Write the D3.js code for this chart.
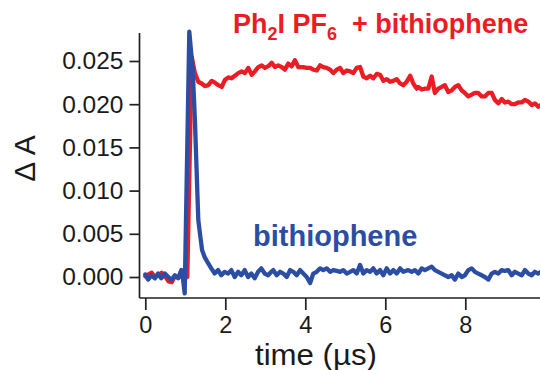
<!DOCTYPE html>
<html>
<head>
<meta charset="utf-8">
<script src="https://cdn.jsdelivr.net/npm/d3@7"></script>
<style>
  html, body { margin: 0; padding: 0; background: #ffffff; }
  svg { display: block; }
</style>
</head>
<body>
<svg id="chart" width="540" height="370"></svg>
<script>
// ---------- data ----------
const xTicks = [0, 2, 4, 6, 8];
const yTicks = [0.000, 0.005, 0.010, 0.015, 0.020, 0.025];
const yTickLabels = ["0.000", "0.005", "0.010", "0.015", "0.020", "0.025"];

const seriesNames = ["Ph\u2082I PF\u2086 + bithiophene", "bithiophene"];

const redTime = [0.00,0.08,0.16,0.24,0.33,0.41,0.49,0.58,0.66,0.74,0.83,0.91,0.99,1.05,1.16,
  1.24,1.325,1.41,1.49,1.575,1.66,1.74,1.825,1.91,1.99,2.075,2.16,2.24,2.325,2.41,2.49,2.575,2.66,2.74,2.825,2.91,2.99,
  3.075,3.16,3.24,3.325,3.41,3.49,3.575,3.66,3.74,3.825,3.87,3.95,4.035,4.12,4.20,4.285,4.37,4.45,4.535,4.62,4.70,4.785,
  4.87,4.95,5.035,5.12,5.20,5.285,5.37,5.45,5.535,5.62,5.70,5.785,5.87,5.95,6.035,6.12,6.20,6.285,6.37,6.45,6.535,6.62,
  6.70,6.785,6.825,6.91,6.99,7.075,7.16,7.24,7.325,7.41,7.49,7.575,7.66,7.74,7.825,7.91,7.99,8.075,8.16,8.24,8.325,8.41,
  8.49,8.575,8.66,8.74,8.825,8.91,8.99,9.075,9.16,9.24,9.325,9.41,9.49,9.575,9.66,9.74,9.825,9.89];
const redDA = [0.0001,0.0003,0.0005,0.0000,0.0002,0.0005,0.0001,-0.0005,-0.0006,0.0001,-0.0001,0.0003,-0.0001,0.0000,0.0255,
  0.0236,0.0226,0.0224,0.0221,0.0222,0.0227,0.0225,0.0222,0.0220,0.0228,0.0231,0.0230,0.0233,0.0236,0.0238,0.0236,0.0242,0.0234,0.0238,0.0243,0.0245,0.0242,
  0.0244,0.0248,0.0243,0.0245,0.0243,0.0240,0.0247,0.0244,0.0251,0.0243,0.0243,0.0243,0.0242,0.0242,0.0240,0.0239,0.0245,0.0243,0.0242,0.0240,0.0236,0.0240,
  0.0242,0.0236,0.0239,0.0238,0.0236,0.0242,0.0243,0.0232,0.0230,0.0233,0.0230,0.0235,0.0234,0.0227,0.0229,0.0226,0.0227,0.0229,0.0224,0.0222,0.0226,0.0233,
  0.0224,0.0218,0.0220,0.0217,0.0218,0.0218,0.0232,0.0213,0.0218,0.0220,0.0222,0.0214,0.0216,0.0220,0.0222,0.0216,0.0213,0.0209,0.0211,0.0213,0.0213,0.0209,
  0.0209,0.0213,0.0213,0.0205,0.0201,0.0206,0.0202,0.0203,0.0200,0.0200,0.0202,0.0202,0.0205,0.0203,0.0199,0.0201,0.0197,0.0199];

const blueTime = [0.00,0.07,0.15,0.24,0.32,0.40,0.49,0.57,0.65,0.74,0.82,0.90,0.94,0.985,1.10,1.185,1.24,1.325,1.37,1.42,1.485,1.57,1.65,1.735,
  1.82,1.90,1.985,2.07,2.15,2.235,2.32,2.40,2.485,2.57,2.65,2.735,2.82,2.90,2.985,3.07,3.15,3.20,3.285,3.37,3.45,3.535,3.62,3.70,3.785,
  3.87,3.95,4.035,4.12,4.20,4.285,4.37,4.45,4.535,4.62,4.70,4.785,4.87,4.95,5.035,5.12,5.20,5.285,5.37,5.45,5.535,5.62,5.70,5.785,5.87,
  5.95,6.035,6.12,6.20,6.285,6.37,6.45,6.575,6.66,6.74,6.825,6.91,6.99,7.075,7.16,7.24,7.325,7.41,7.49,7.575,7.66,7.74,7.825,7.91,7.99,
  8.075,8.16,8.24,8.325,8.41,8.49,8.575,8.66,8.74,8.825,8.91,8.99,9.075,9.16,9.24,9.325,9.41,9.49,9.575,9.66,9.74,9.825,9.89];
const blueDA = [0.0003,-0.0003,0.0002,-0.00015,0.0004,-0.00015,0.0004,0.00003,-0.00035,0.0002,-0.00015,0.0008,-0.00015,-0.0019,0.0284,0.0240,0.0182,0.0066,0.0049,0.0031,0.0023,0.0016,0.0010,0.0004,
  0.0008,0.0002,0.0006,0.0004,0.0008,0.0000,0.0006,0.0002,0.0008,0.0000,0.0004,-0.00015,0.0006,0.0010,0.0004,0.0002,0.0006,0.0008,0.0002,0.0006,0.0004,0.0000,0.0008,0.0006,0.0002,
  0.0008,0.0004,0.0000,-0.0007,0.0004,0.0006,0.0010,0.0008,0.0010,0.0006,0.0008,0.0007,0.0006,0.0008,0.0004,0.0006,0.0008,0.0004,0.0014,0.0004,0.0008,0.0006,0.0010,0.0004,0.0008,
  0.0002,0.0010,0.0004,0.0008,0.0004,0.0010,0.0006,0.0008,0.0006,0.0008,0.0004,0.0010,0.0008,0.0010,0.0012,0.0008,0.0006,0.0004,0.0002,0.0000,0.0002,-0.0003,0.0004,0.0000,0.0002,
  0.0008,0.0010,0.0006,0.0004,0.0002,0.0000,-0.0003,0.0004,0.0006,0.0004,0.0008,0.0007,0.0008,0.0002,0.0006,0.0004,0.0002,0.0008,0.0004,0.0002,0.0006,0.0004,0.0006];

// ---------- drawing ----------
const svg = d3.select("#chart");
const axisColor = "#231f20";
const redColor = "#ec1c24";
const blueColor = "#2b4ea4";
const font = "'Liberation Sans', Arial, Helvetica, sans-serif";

const x = d3.scaleLinear().domain([0, 10]).range([145.3, 545.3]);
const y = d3.scaleLinear().domain([-0.00243, 0.02824]).range([298, 33]);

const line = d3.line().x(d => x(d[0])).y(d => y(d[1]));
const redPts = redTime.map((t, i) => [t, redDA[i]]);
const bluePts = blueTime.map((t, i) => [t, blueDA[i]]);

svg.append("path").datum(redPts).attr("d", line)
  .attr("fill", "none").attr("stroke", redColor).attr("stroke-width", 4.3)
  .attr("stroke-linejoin", "round").attr("stroke-linecap", "round");
svg.append("path").datum(bluePts).attr("d", line)
  .attr("fill", "none").attr("stroke", blueColor).attr("stroke-width", 4.3)
  .attr("stroke-linejoin", "round").attr("stroke-linecap", "round");

// y axis
const yAxis = d3.axisLeft(y).tickValues(yTicks).tickFormat((d, i) => yTickLabels[i])
  .tickSizeInner(10).tickSizeOuter(0).tickPadding(6);
const gy = svg.append("g").attr("transform", "translate(139.5,0)").call(yAxis);
gy.select(".domain").remove();
gy.selectAll(".tick line").attr("stroke", axisColor).attr("stroke-width", 1.7);
gy.selectAll(".tick text").attr("fill", "#1a1a1a").style("font-family", font).style("font-size", "24.5px");
svg.append("line").attr("x1", 139.5).attr("x2", 139.5).attr("y1", 33).attr("y2", 298)
  .attr("stroke", axisColor).attr("stroke-width", 1.7);

// x axis
const xAxis = d3.axisBottom(x).tickValues(xTicks).tickFormat(d3.format("d"))
  .tickSizeInner(12).tickSizeOuter(0).tickPadding(6);
const gx = svg.append("g").attr("transform", "translate(0,298)").call(xAxis);
gx.select(".domain").remove();
gx.selectAll(".tick line").attr("stroke", axisColor).attr("stroke-width", 1.7);
gx.selectAll(".tick text").attr("fill", "#1a1a1a").style("font-family", font).style("font-size", "23.5px");
svg.append("line").attr("x1", 139.5).attr("x2", 540).attr("y1", 298).attr("y2", 298)
  .attr("stroke", axisColor).attr("stroke-width", 1.7);

// axis titles
svg.append("text").attr("transform", "translate(35,158.5) rotate(-90)")
  .attr("text-anchor", "middle").attr("fill", "#1a1a1a")
  .style("font-family", font).style("font-size", "30px").text("\u0394 A");
svg.append("text").attr("x", 316).attr("y", 364.5).attr("text-anchor", "middle").attr("fill", "#1a1a1a")
  .attr("textLength", 122).attr("lengthAdjust", "spacingAndGlyphs")
  .style("font-family", font).style("font-size", "29px").text("time (\u00b5s)");

// series labels
const lab1 = svg.append("text").attr("x", 233).attr("y", 33).attr("fill", redColor)
  .style("font-family", font).style("font-size", "27px").style("font-weight", "bold");
lab1.append("tspan").text("Ph");
lab1.append("tspan").attr("dy", 7).style("font-size", "18px").text("2");
lab1.append("tspan").attr("dy", -7).text("I PF");
lab1.append("tspan").attr("dy", 7).style("font-size", "18px").text("6");
lab1.append("tspan").attr("dy", -7).text("\u00a0 + bithiophene");

svg.append("text").attr("x", 253).attr("y", 246).attr("fill", blueColor)
  .style("font-family", font).style("font-size", "29px").style("font-weight", "bold")
  .text(seriesNames[1]);
</script>
</body>
</html>
